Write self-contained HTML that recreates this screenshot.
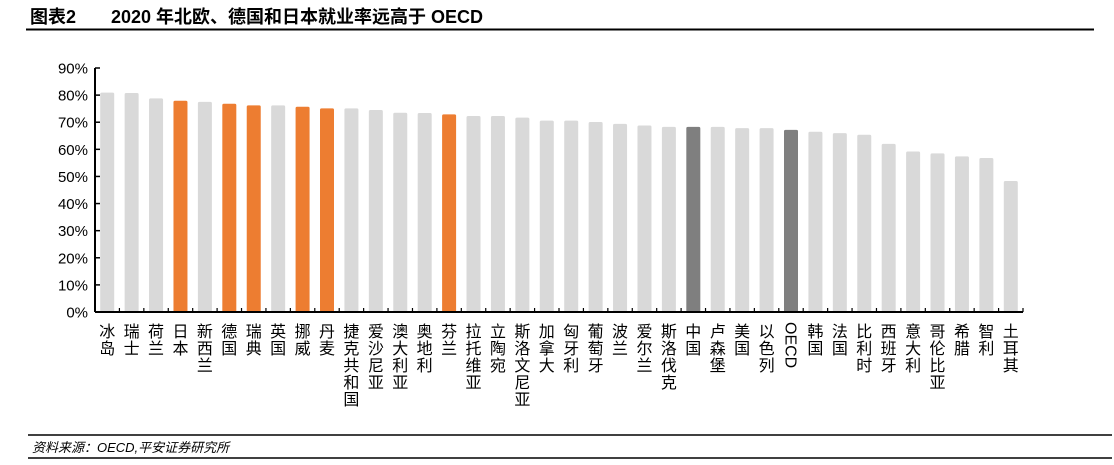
<!DOCTYPE html>
<html><head><meta charset="utf-8"><style>
body{margin:0;width:1114px;height:460px;background:#fff;overflow:hidden;font-family:"Liberation Sans","Noto Sans CJK SC",sans-serif;}
</style></head><body>
<svg width="1114" height="460" xmlns="http://www.w3.org/2000/svg">
<text x="30" y="23" font-size="18" font-weight="bold" font-family="Liberation Sans, Noto Sans CJK SC, sans-serif">图表2</text>
<text x="111" y="23" font-size="18" font-weight="bold" font-family="Liberation Sans, Noto Sans CJK SC, sans-serif">2020 年北欧、德国和日本就业率远高于 OECD</text>
<line x1="26" y1="29.5" x2="1094" y2="29.5" stroke="#000" stroke-width="2"/>
<g id="plot"></g>
<line x1="28" y1="435" x2="1112" y2="435" stroke="#000" stroke-width="1.5"/>
<text x="32" y="452" font-size="13" font-style="italic" font-family="Liberation Sans, Noto Sans CJK SC, sans-serif">资料来源：OECD,平安证券研究所</text>
<line x1="28" y1="458" x2="1112" y2="458" stroke="#000" stroke-width="1.5"/>
</svg>
<script>
const categories=["冰岛","瑞士","荷兰","日本","新西兰","德国","瑞典","英国","挪威","丹麦","捷克共和国","爱沙尼亚","澳大利亚","奥地利","芬兰","拉托维亚","立陶宛","斯洛文尼亚","加拿大","匈牙利","葡萄牙","波兰","爱尔兰","斯洛伐克","中国","卢森堡","美国","以色列","OECD","韩国","法国","比利时","西班牙","意大利","哥伦比亚","希腊","智利","土耳其"];
const values=[80.9,80.8,78.8,77.9,77.5,76.8,76.2,76.2,75.7,75.1,75.1,74.5,73.5,73.4,72.9,72.3,72.3,71.7,70.6,70.6,70.1,69.4,68.8,68.3,68.3,68.3,67.8,67.8,67.2,66.5,66.0,65.4,62.0,59.2,58.5,57.4,56.8,48.3];
const highlight=["日本","德国","瑞典","挪威","丹麦","芬兰"];
const dark=["中国","OECD"];
const yTicks=[0,10,20,30,40,50,60,70,80,90];
const NS="http://www.w3.org/2000/svg";
const g=document.getElementById('plot');
const x0=95,x1=1023,y0=312,yTop=68,yMax=90;
const step=(x1-x0)/categories.length;
const y=v=>y0-(v/yMax)*(y0-yTop);
const xc=i=>x0+step*(i+0.5);
function mk(t,a){const e=document.createElementNS(NS,t);for(const k in a)e.setAttribute(k,a[k]);g.appendChild(e);return e;}
values.forEach((v,i)=>{
  const c=categories[i];
  const fill=highlight.includes(c)?"#ED7D31":dark.includes(c)?"#7F7F7F":"#D9D9D9";
  const r=mk('rect',{x:xc(i)-7,y:y(v),width:14,height:y0-y(v),fill:fill,rx:1.5});
  
  
  const t=mk('text',{x:xc(i),'font-size':16,'text-anchor':'middle','font-family':'Liberation Sans, Noto Sans CJK SC, sans-serif',fill:'#000'});
  
  
  if(c==="OECD"){
    t.setAttribute('transform','translate('+xc(i)+',322) rotate(90)');
    t.setAttribute('x',0);t.setAttribute('y',5.5);t.setAttribute('text-anchor','start');
    t.textContent=c;
  } else {
    [...c].forEach((ch,j)=>{const s=document.createElementNS(NS,'tspan');s.setAttribute('x',xc(i));s.setAttribute('y',337+j*17);s.textContent=ch;t.appendChild(s);});
  }
});
yTicks.forEach(v=>{
  const l=mk('line',{x1:x0,x2:x0+5,y1:y(v),y2:y(v),stroke:'#000','stroke-width':1.5});
  
  
  const t=mk('text',{x:88,y:y(v)+5.5,'font-size':15,'text-anchor':'end',fill:'#000'});
  
  
  t.textContent=v+'%';
});
for(let i=0;i<=categories.length;i++){
  const l=mk('line',{x1:x0+step*i,x2:x0+step*i,y1:y0,y2:y0-4,stroke:'#000','stroke-width':1.2});
  
  
}
const ya=mk('line',{x1:x0,x2:x0,y1:yTop,y2:y0,stroke:'#000','stroke-width':2});


const xa=mk('line',{x1:x0,x2:x1,y1:y0,y2:y0,stroke:'#000','stroke-width':2});


</script>
</body></html>
